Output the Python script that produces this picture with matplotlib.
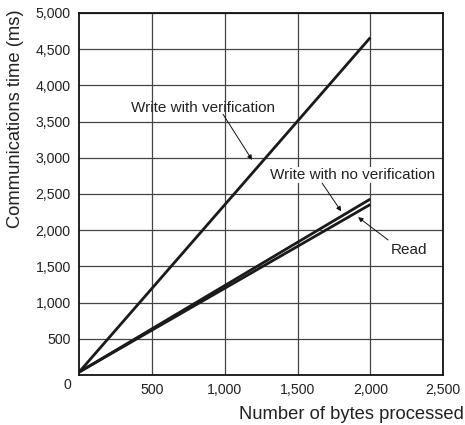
#!/usr/bin/env python3
"""
Communications time vs number of bytes processed
"""

import matplotlib
matplotlib.use('Agg')
import matplotlib.pyplot as plt

# data
bytes_processed = [0, 2000]
write_verify_ms = [40, 4660]
write_no_verify_ms = [40, 2430]
read_ms = [40, 2355]

x_ticks = [500, 1000, 1500, 2000, 2500]
y_ticks = [500, 1000, 1500, 2000, 2500, 3000, 3500, 4000, 4500, 5000]

plt.rcParams['font.family'] = ['Liberation Sans', 'DejaVu Sans']


def fmt(v):
    return f"{v:,}"


def main():
    fig = plt.figure(figsize=(4.65, 4.25), dpi=100)
    ax = fig.add_axes([0.170, 0.1176, 0.783, 0.852])

    tick_fs = 10.2
    note_fs = 11.0
    title_fs = 13.2

    # lines
    lw = 2.0
    ax.plot(bytes_processed, write_verify_ms, color='#1a1a1a', lw=lw, solid_capstyle='butt')
    ax.plot(bytes_processed, write_no_verify_ms, color='#1a1a1a', lw=lw, solid_capstyle='butt')
    ax.plot(bytes_processed, read_ms, color='#1a1a1a', lw=lw, solid_capstyle='butt')

    ax.set_xlim(0, 2500)
    ax.set_ylim(0, 5000)
    ax.set_xticks(x_ticks)
    ax.set_yticks(y_ticks)
    ax.set_xticklabels([fmt(v) for v in x_ticks], fontsize=tick_fs, color='#222')
    ax.set_yticklabels([fmt(v) for v in y_ticks], fontsize=tick_fs, color='#222')
    ax.tick_params(length=0, pad=6)
    ax.grid(True, color='#444', lw=0.9)
    ax.set_axisbelow(True)
    for s in ax.spines.values():
        s.set_linewidth(1.3)
        s.set_color('#111')

    # single zero at the corner
    ax.text(-0.022, -0.028, '0', transform=ax.transAxes, ha='right', va='center',
            fontsize=tick_fs, color='#222')

    # axis titles
    fig.text(0.034, 0.977, 'Communications time (ms)', rotation=90, ha='center', va='top',
             fontsize=title_fs, color='#222')
    fig.text(0.997, 0.024, 'Number of bytes processed', ha='right', va='center',
             fontsize=title_fs, color='#222')

    # labels with arrows
    arrow = dict(arrowstyle='-|>', lw=0.7, color='#111', mutation_scale=7,
                 shrinkA=0, shrinkB=0)
    ax.text(852, 3690, 'Write with verification', ha='center', va='center',
            fontsize=note_fs, color='#222')
    ax.annotate('', xy=(1188, 2970), xytext=(989, 3600), arrowprops=arrow)

    ax.text(1875, 2762, 'Write with no verification', ha='center', va='center',
            fontsize=note_fs, color='#222', bbox=dict(fc='white', ec='none', pad=0.5))
    ax.annotate('', xy=(1800, 2260), xytext=(1669, 2650), arrowprops=arrow)

    ax.text(2266, 1727, 'Read', ha='center', va='center', fontsize=note_fs, color='#222')
    ax.annotate('', xy=(1916, 2180), xytext=(2122, 1865), arrowprops=arrow)

    fig.savefig('out.png', dpi=100)
    plt.close(fig)


if __name__ == '__main__':
    main()
